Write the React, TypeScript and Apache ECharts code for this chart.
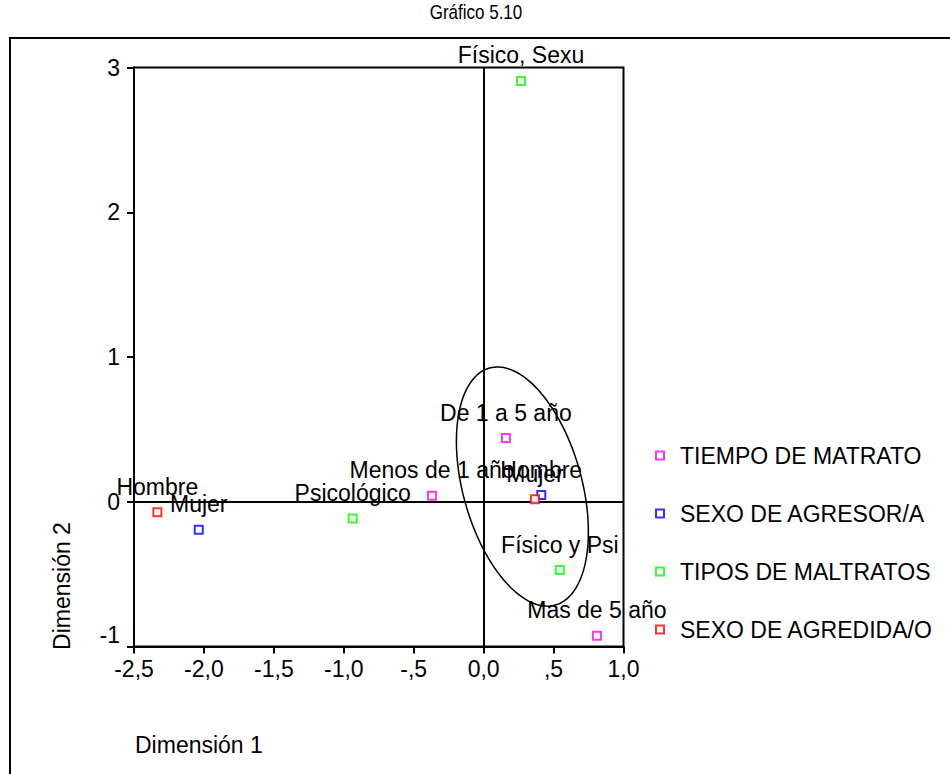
import React, { useEffect, useRef } from "react";
import * as echarts from "echarts";

const FONT = "'Liberation Sans', Arial, sans-serif";

const titleText = "Gráfico 5.10";
const xAxisTitle = "Dimensión 1";
const yAxisTitle = "Dimensión 2";

const xTickValues = [-2.5, -2.0, -1.5, -1.0, -0.5, 0.0, 0.5, 1.0];
const xTickLabels = ["-2,5", "-2,0", "-1,5", "-1,0", "-,5", "0,0", ",5", "1,0"];
const yTickValues = [-1, 0, 1, 2, 3];
const yTickLabels = ["-1", "0", "1", "2", "3"];

const seriesNames = [
  "TIEMPO DE MATRATO",
  "SEXO DE AGRESOR/A",
  "TIPOS DE MALTRATOS",
  "SEXO DE AGREDIDA/O",
];
const seriesColors = ["#ff00ff", "#0000ff", "#00ff00", "#ff0000"];

const tiempoNames = ["De 1 a 5 año", "Menos de 1 año", "Mas de 5 año"];
const tiempoX = [0.159, -0.369, 0.81];
const tiempoY = [0.44, 0.041, -0.925];

const agresorNames = ["Mujer", "Hombre"];
const agresorX = [-2.037, 0.412];
const agresorY = [-0.193, 0.046];

const maltratoNames = ["Físico, Sexu", "Psicológico", "Físico y Psi"];
const maltratoX = [0.267, -0.936, 0.545];
const maltratoY = [2.907, -0.115, -0.472];

const agredidaNames = ["Hombre", "Mujer"];
const agredidaX = [-2.333, 0.367];
const agredidaY = [-0.073, 0.017];

// ellipse annotation in data coordinates: centre and two conjugate semi-axis vectors
const ellipseCenter = [0.277, 0.105];
const ellipseAxisU = [0.2347, -0.8189];
const ellipseAxisV = [0.4093, 0.1095];

const groups = [
  { names: tiempoNames, xs: tiempoX, ys: tiempoY },
  { names: agresorNames, xs: agresorX, ys: agresorY },
  { names: maltratoNames, xs: maltratoX, ys: maltratoY },
  { names: agredidaNames, xs: agredidaX, ys: agredidaY },
];

export default function App() {
  const ref = useRef<HTMLDivElement>(null);

  useEffect(() => {
    if (!ref.current) return;
    const chart = echarts.init(ref.current, null, { renderer: "svg" });

    const scatterSeries = groups.map((g, gi) => ({
      type: "scatter",
      name: seriesNames[gi],
      symbol: "emptyRect",
      symbolSize: 8,
      z: 5,
      itemStyle: { color: seriesColors[gi], borderWidth: 2 },
      label: {
        show: true,
        position: "top",
        distance: 9,
        formatter: "{b}",
        color: "#000",
        opacity: 1,
        textBorderWidth: 0,
        fontSize: 23,
        fontFamily: FONT,
      },
      data: g.names.map((n, i) => ({ name: n, value: [g.xs[i], g.ys[i]] })),
    }));

    const option: any = {
      animation: false,
      backgroundColor: "#fff",
      legend: {
        orient: "vertical",
        left: 655,
        top: 444,
        padding: 0,
        itemWidth: 8,
        itemHeight: 8,
        itemGap: 35,
        data: seriesNames,
        textStyle: {
          fontSize: 23,
          lineHeight: 23,
          color: "#000",
          fontFamily: FONT,
          padding: [0, 0, 0, 11],
        },
      },
      grid: {
        left: 134,
        right: 326.5,
        top: 67.5,
        bottom: 127.5,
        show: true,
        borderColor: "#000",
        borderWidth: 2,
        backgroundColor: "transparent",
      },
      xAxis: {
        type: "value",
        min: -2.5,
        max: 1.0,
        interval: 0.5,
        splitLine: { show: false },
        axisLine: { onZero: false, lineStyle: { color: "#000", width: 2 } },
        axisTick: { inside: false, length: 7, lineStyle: { color: "#000", width: 2 } },
        axisLabel: {
          color: "#000",
          fontSize: 23,
          fontFamily: FONT,
          margin: 11,
          formatter: (v: number) => {
            const i = xTickValues.findIndex((t) => Math.abs(t - v) < 1e-6);
            return i >= 0 ? xTickLabels[i] : "";
          },
        },
      },
      yAxis: {
        type: "value",
        min: -1,
        max: 3,
        interval: 1,
        splitLine: { show: false },
        axisLine: { onZero: false, lineStyle: { color: "#000", width: 2 } },
        axisTick: { inside: false, length: 7, lineStyle: { color: "#000", width: 2 } },
        axisLabel: {
          color: "#000",
          fontSize: 23,
          fontFamily: FONT,
          margin: 14,
          formatter: (v: number) => {
            const i = yTickValues.findIndex((t) => Math.abs(t - v) < 1e-6);
            if (i < 0) return "";
            return i === 0 ? "{up|" + yTickLabels[i] + "}" : yTickLabels[i];
          },
          rich: {
            up: { fontSize: 23, fontFamily: FONT, color: "#000", padding: [0, 0, 24, 0] },
          },
        },
      },
      graphic: [
        {
          type: "text",
          x: 476,
          y: 12,
          scaleX: 0.85,
          style: {
            text: titleText,
            fontSize: 20,
            fontFamily: FONT,
            fill: "#000",
            verticalAlign: "middle",
            align: "center",
          },
        },
        {
          type: "rect",
          shape: { x: 10, y: 38, width: 980, height: 780 },
          style: { fill: "none", stroke: "#000", lineWidth: 2 },
          silent: true,
        },
        {
          type: "text",
          x: 135,
          y: 745,
          style: {
            text: xAxisTitle,
            fontSize: 23,
            fontFamily: FONT,
            fill: "#000",
            verticalAlign: "middle",
            align: "left",
          },
        },
        {
          type: "text",
          x: 62,
          y: 586,
          rotation: Math.PI / 2,
          style: {
            text: yAxisTitle,
            fontSize: 23,
            fontFamily: FONT,
            fill: "#000",
            verticalAlign: "middle",
            align: "center",
          },
        },
      ],
      series: [
        {
          type: "custom",
          name: "ellipse",
          z: 3,
          silent: true,
          data: [[ellipseCenter[0], ellipseCenter[1]]],
          renderItem: (params: any, api: any) => {
            const pts: number[][] = [];
            const N = 160;
            for (let k = 0; k < N; k++) {
              const t = (2 * Math.PI * k) / N;
              const x = ellipseCenter[0] + Math.cos(t) * ellipseAxisU[0] + Math.sin(t) * ellipseAxisV[0];
              const y = ellipseCenter[1] + Math.cos(t) * ellipseAxisU[1] + Math.sin(t) * ellipseAxisV[1];
              pts.push(api.coord([x, y]));
            }
            return {
              type: "polygon",
              shape: { points: pts },
              style: { fill: "none", stroke: "#000", lineWidth: 1.5 },
            };
          },
          markLine: {
            silent: true,
            symbol: ["none", "none"],
            label: { show: false },
            lineStyle: { color: "#000", width: 2, type: "solid" },
            data: [{ xAxis: 0 }, { yAxis: 0 }],
          },
        },
        ...scatterSeries,
      ],
    };

    chart.setOption(option);
    return () => chart.dispose();
  }, []);

  return (
    <div
      ref={ref}
      style={{ position: "absolute", left: 0, top: 0, width: 950, height: 774 }}
    />
  );
}
